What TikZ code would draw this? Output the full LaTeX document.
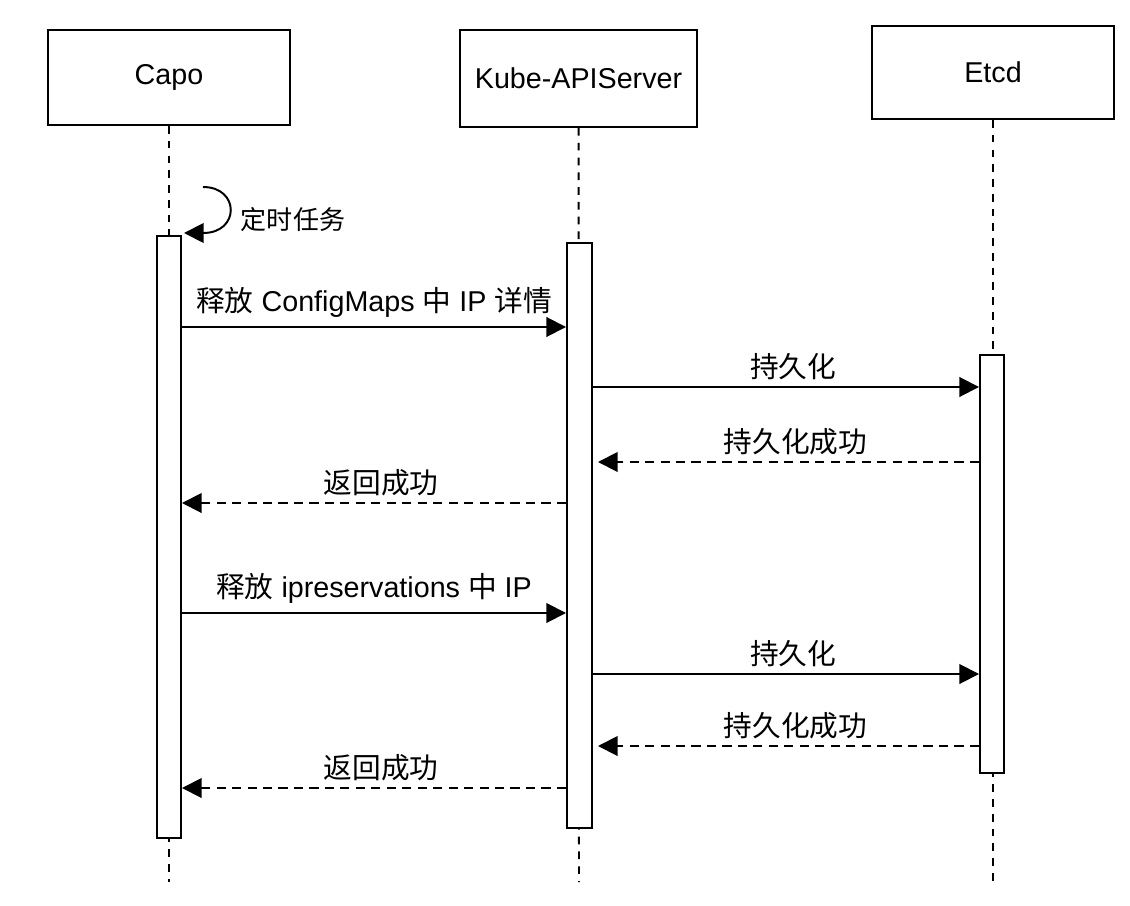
\documentclass[tikz,border=0pt]{standalone}
\usepackage{fontspec}
\setmainfont{Liberation Sans}
\newfontfamily\cjk{Noto Sans CJK SC}
\newcommand{\zh}[1]{{\cjk #1}}
\usetikzlibrary{arrows.meta,calc}
\tikzset{
    actor/.style={
           rectangle,
           draw=black, line width=1.4pt,
           minimum width=6.05cm,
           text centered,
           font=\fontsize{20.4}{24}\selectfont,
           },
    activation/.style={
           rectangle,
           draw=black, fill=white, line width=1.4pt,
           minimum width=0.6cm,
           inner sep=0pt,
           },
    lifeline/.style={draw=black, line width=1.4pt, dash pattern=on 5.5pt off 5pt},
    msg/.style={draw=black, line width=1.4pt, -{Triangle[length=14pt,width=14pt]}},
    reply/.style={msg, dash pattern=on 6.5pt off 4.5pt},
    msglabel/.style={above=1pt, font=\fontsize{20.4}{24}\selectfont},
}

\begin{document}
\begin{tikzpicture}[x=0.025cm, y=-0.025cm]
    \useasboundingbox (0,0) rectangle (1130,906);

    % participants
    \node[actor, minimum height=2.375cm] (capo) at (169,77.5) {Capo};
    \node[actor, minimum width=5.925cm, minimum height=2.425cm] (kube) at (578.5,78.5) {Kube-APIServer};
    \node[actor, minimum height=2.325cm] (etcd) at (993,72.5) {Etcd};

    % lifelines (end points at the bottom)
    \coordinate (capo-end) at (169,882);
    \coordinate (kube-end) at (579,882);
    \coordinate (etcd-end) at (993,882);
    \draw[lifeline] (capo) -- (capo-end);
    \draw[lifeline] (kube) -- (kube-end);
    \draw[lifeline] (etcd) -- (etcd-end);

    % activation bars
    \node[activation, minimum height=15.05cm] (capo-act) at (169,537) {};
    \node[activation, minimum width=0.625cm, minimum height=14.625cm] (kube-act) at (579.5,535.5) {};
    \node[activation, minimum height=10.45cm] (etcd-act) at (992,564) {};

    % timer loop on Capo
    \coordinate (loop-start) at (203,187);
    \coordinate (loop-end) at (184,233);
    \draw[msg] (loop-start) .. controls (240,187) and (240,233) .. (loop-end);
    \node[anchor=west, font=\fontsize{18.5}{22}\selectfont] (loop-text) at (236,220) {\zh{定时任务}};

    % message rows
    \coordinate (m1) at (0,327);
    \coordinate (m2) at (0,387);
    \coordinate (m3) at (0,462);
    \coordinate (m4) at (0,503);
    \coordinate (m5) at (0,613);
    \coordinate (m6) at (0,674);
    \coordinate (m7) at (0,746);
    \coordinate (m8) at (0,788);

    % first round: ConfigMaps
    \draw[msg] (capo-act.east |- m1) -- node[msglabel, yshift=2pt] {\zh{释放} ConfigMaps \zh{中} IP \zh{详情}} (kube-act.west |- m1);
    \draw[msg] (kube-act.east |- m2) -- node[msglabel, xshift=5pt] {\zh{持久化}} (etcd-act.west |- m2);
    \draw[reply] (etcd-act.west |- m3) -- node[msglabel, xshift=5pt] {\zh{持久化成功}} ($(kube-act.east |- m3)+(5,0)$);
    \draw[reply] (kube-act.west |- m4) -- node[msglabel, xshift=5pt] {\zh{返回成功}} (capo-act.east |- m4);

    % second round: ipreservations
    \draw[msg] (capo-act.east |- m5) -- node[msglabel, yshift=2pt] {\zh{释放} ipreservations \zh{中} IP} (kube-act.west |- m5);
    \draw[msg] (kube-act.east |- m6) -- node[msglabel, xshift=5pt] {\zh{持久化}} (etcd-act.west |- m6);
    \draw[reply] (etcd-act.west |- m7) -- node[msglabel, xshift=5pt] {\zh{持久化成功}} ($(kube-act.east |- m7)+(5,0)$);
    \draw[reply] (kube-act.west |- m8) -- node[msglabel, xshift=5pt] {\zh{返回成功}} (capo-act.east |- m8);
\end{tikzpicture}
\end{document}
